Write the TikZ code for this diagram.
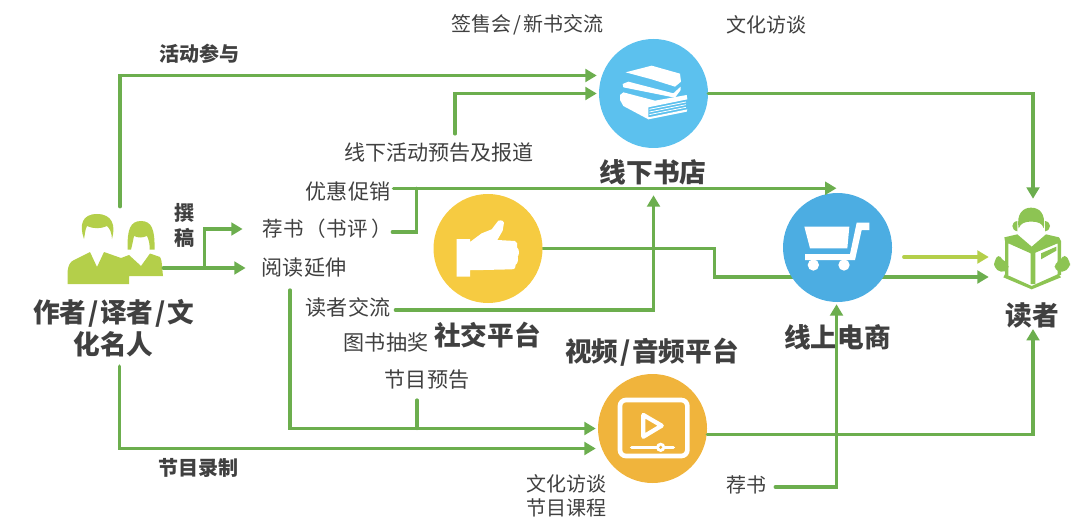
\documentclass[tikz,border=0pt]{standalone}
\usepackage{fontspec}
\setmainfont{Noto Sans CJK SC}
\usetikzlibrary{arrows.meta,calc,backgrounds}
\definecolor{conn}{HTML}{6CAE4E}
\definecolor{lime}{HTML}{B4CF4A}
\definecolor{readerc}{HTML}{8DC453}
\definecolor{ink}{HTML}{404040}
\definecolor{cblue}{HTML}{5CC1EE}
\definecolor{cshop}{HTML}{4CADE2}
\definecolor{cyellow}{HTML}{F6CB41}
\definecolor{corange}{HTML}{F0B43C}
\newcommand{\wslash}{\kern1.3pt/\kern1.3pt}
\tikzset{
  lbl/.style={inner sep=0pt,text=ink,font=\fontsize{15}{18}\selectfont},
  lblb/.style={inner sep=0pt,text=ink,font=\fontsize{15}{18}\selectfont\bfseries},
  big/.style={inner sep=0pt,text=ink,align=center,font=\fontsize{20}{24}\selectfont\bfseries},
  disc/.style={circle,inner sep=0pt,minimum size=81.75pt},
  iconbox/.style={inner sep=0pt,minimum width=#1},
  link/.style={draw=conn,line width=2.5pt,line cap=round,line join=miter,-{Triangle[length=8.5pt,width=9.5pt]}},
  plain link/.style={draw=conn,line width=2.5pt,line cap=round},
  zoomed/.style={x=0.25pt,y=-0.25pt}
}
\begin{document}
\begin{tikzpicture}[x=0.75pt,y=-0.75pt]
\useasboundingbox (0,0) rectangle (1080,527);
% circles
\node[disc,fill=cblue] (shop) at (653.5,93.5) {};
\node[disc,fill=cshop] (cart) at (837.5,247.5) {};
\node[disc,fill=cyellow] (social) at (488,248.5) {};
\node[disc,fill=corange] (video) at (652.5,428.5) {};
% icon anchors
\node[iconbox=72pt,minimum height=58.5pt] (author) at (115,246) {};
\node[iconbox=66pt,minimum height=67.5pt] (reader) at (1033,245) {};
% author icon
\fill[lime] (67.5,284) -- (67.5,273) .. controls (68,265) and (70,262) .. (74,260) -- (90,252) -- (97,267) -- (104,252) -- (121,258) -- (129,255) -- (141,266) -- (150,253.5) -- (160,257) .. controls (162,259) and (162,268) .. (163,276) -- (129,276) -- (129,284) -- cycle;
\fill[lime] (84,239) .. controls (79,225) and (82,214) .. (97,214) .. controls (112,214) and (116,225) .. (112,239) .. controls (111.5,232) and (110,229) .. (107,226) .. controls (100,229) and (94,229) .. (87,226) .. controls (85,230) and (85,234) .. (84,239) -- cycle;
\fill[lime] (127.7,249.5) .. controls (127,230) and (130,221) .. (141,221) .. controls (152,221) and (155,230) .. (154.5,249.5) -- (149.5,249.5) .. controls (150,245) and (149,240) .. (147,236) .. controls (142,238) and (138,238) .. (134,236) .. controls (133,241) and (132,246) .. (131,249.5) -- cycle;
% books icon
\begin{scope}[shift={(580,30)},zoomed]
\fill[white] (137,127) -- (215,107) -- (300,131) -- (303,155) -- (285,170) -- (215,148) -- cycle;
\fill[white] (128,162) -- (145,155) -- (280,190) -- (302,170) -- (302,180) -- (285,203) -- (130,172) -- cycle;
\fill[white] (120,195) -- (130,187) -- (225,212) -- (320,195) -- (322,208) -- (205,232) -- (205,262) -- (322,238) -- (320,245) -- (205,268) -- (130,228) -- (120,210) -- cycle;
\draw[white,line width=.6pt] (208,238) -- (318,216) (208,246) -- (318,224) (208,254) -- (318,232);
\end{scope}
% thumb icon
\begin{scope}[shift={(420,190)},zoomed]
\fill[white] (110,147) -- (150,147) -- (150,156) -- (185,130) -- (215,118) -- (235,92) .. controls (245,90) and (252,92) .. (252,98) -- (248,122) -- (232,150) -- (285,153) .. controls (292,155) and (294,165) .. (291,172) .. controls (299,178) and (298,195) .. (293,200) .. controls (296,210) and (292,222) .. (287,224) .. controls (288,232) and (285,238) .. (275,238) -- (190,240) -- (150,240) -- (150,260) -- (110,260) -- cycle;
\end{scope}
% cart icon
\begin{scope}[shift={(760,180)},zoomed]
\fill[white] (133,140) -- (268,140) -- (262,205) -- (150,205) -- cycle;
\fill[white] (328,128) -- (328,150) -- (305,150) -- (285,240) -- (135,240) -- (135,222) -- (270,222) -- (290,128) -- cycle;
\fill[white] (160,255) circle[radius=17] (252,255) circle[radius=17];
\end{scope}
% video icon
\begin{scope}[shift={(580,360)},zoomed]
\draw[white,line width=3.5pt,rounded corners=4.5pt] (120,120) rectangle (322,288);
\draw[white,line width=3.2pt,line join=round] (190,165) -- (245,197) -- (190,230) -- cycle;
\draw[white,line width=2.6pt,line cap=round] (155,262) -- (280,262);
\fill[white] (242,262) circle[radius=14];
\fill[corange] (242,262) circle[radius=5];
\end{scope}
% reader icon
\begin{scope}[shift={(760,180)},zoomed]
\fill[readerc] (776,145) .. controls (768,100) and (790,83) .. (813,83) .. controls (838,83) and (858,100) .. (851,145) .. controls (846,132) and (840,125) .. (813,125) .. controls (790,125) and (782,132) .. (776,145) -- cycle;
\fill[readerc] (772,123) .. controls (752,126) and (752,150) .. (772,154) -- cycle (855,123) .. controls (875,126) and (875,150) .. (855,154) -- cycle;
\fill[readerc] (733,172) -- (772,163) -- (815,200) -- (858,163) -- (897,172) -- (903,183) -- (903,285) -- (893,285) -- (893,190) -- (826,218) -- (826,312) -- (812,312) -- (812,220) -- (745,190) -- (745,285) -- (735,285) -- (735,183) -- cycle;
\fill[readerc] (735,282) -- (815,318) -- (895,282) -- (903,292) -- (815,328) -- (730,292) -- cycle;
\fill[readerc] (843,220) -- (889,200) -- (889,212) -- (843,238) -- cycle;
\fill[readerc,rounded corners=3pt] (716,222) -- (726,240) -- (745,250) -- (746,270) -- (722,278) -- (702,262) -- (702,245) -- cycle;
\fill[readerc,rounded corners=3pt] (914,222) -- (902,240) -- (884,250) -- (884,270) -- (908,278) -- (930,262) -- (930,245) -- cycle;
\end{scope}
% labels
\node[lbl] (signing) at (527.5,25) {签售会\wslash 新书交流};
\node[lbl] (interview) at (766,25) {文化访谈};
\node[lblb] (activity) at (199.5,54) {活动参与};
\node[lbl,font=\fontsize{15.8}{18}\selectfont] (offline) at (439,153) {线下活动预告及报道};
\node[lbl,font=\fontsize{15.8}{18}\selectfont] (promo) at (348,192) {优惠促销};
\node[lbl,font=\fontsize{15.4}{18}\selectfont] (recommend) at (327.5,229) {荐书\kern1.5pt（书评\kern3pt）};
\node[lbl,font=\fontsize{15.8}{18}\selectfont] (extend) at (304,268) {阅读延伸};
\node[lbl,font=\fontsize{15.8}{18}\selectfont] (exchange) at (348,307) {读者交流};
\node[lbl,font=\fontsize{15.8}{18}\selectfont] (lottery) at (386,342) {图书抽奖};
\node[lbl,font=\fontsize{15.8}{18}\selectfont] (preview) at (427,380) {节目预告};
\node[lbl,align=center,font=\fontsize{15}{18}\selectfont] (course) at (566,496) {文化访谈\\节目课程};
\node[lbl] (rec2) at (746,485) {荐书};
\node[lblb] (record) at (198.5,468) {节目录制};
\node[lblb,align=center,font=\fontsize{15}{18.7}\selectfont\bfseries] (write) at (184,225.5) {撰\\稿};
\node[big] (shoplbl) at (653,172) {线下书店};
\node[big] (sociallbl) at (487.5,335) {社交平台};
\node[big] (videolbl) at (652,352) {视频\wslash 音频平台};
\node[big] (cartlbl) at (837.5,337) {线上电商};
\node[big] (readerlbl) at (1032,315) {读者};
\node[big] (authorlbl) at (113.5,328) {作者\wslash 译者\wslash 文\\化名人};
% connectors
\begin{scope}[on background layer]
\draw[link] (social.east) -- ++(172,0) |- ($(reader.west)+(0,32)$);
\end{scope}
\draw[link] ($(author.north)+(5,0)$) |- ($(shop.west)+(-2,-18)$);
\draw[link] ($(offline.north)+(16,-9)$) |- ($(shop.west)+(-2,0)$);
\draw[link] (shop.east) -| ($(reader.north)+(0,-1)$);
\coordinate (cartin) at ($(cart.north)+(-1,-4.5)$);
\draw[link] (promo.east |- cartin) ++(3,0) -- (cartin);
\draw[plain link] ($(recommend.east)+(0,3)$) -| ($(promo.east |- cartin)+(26,0)$);
\draw[link] ($(exchange.east)+(5,3)$) -| ($(shop.south)+(0,47)$);
\draw[link,draw=lime] ($(reader.west)+(-85,12)$) -- ($(reader.west)+(0,12)$);
\coordinate (authout) at (author.east |- extend.west);
\draw[link] (authout) -- ($(extend.west)+(-16,0)$);
\draw[link] ($(authout)+(41,0)$) |- ($(recommend.west)+(-20,0)$);
\draw[link] ($(extend.south)+(-14,12)$) |- ($(video.west)+(-2,0)$);
\draw[plain link] ($(preview.south)+(-10,10)$) -- ($(preview.south |- video.west)+(-10,0)$);
\draw[link] ($(authorlbl.south)+(6,9)$) |- ($(video.west)+(-2,20)$);
\draw[link] ($(video.east)+(0,6)$) -| ($(readerlbl.south)+(1,1)$);
\draw[link] ($(rec2.east)+(9,2)$) -| ($(cart.south)+(-1,2)$);
\end{tikzpicture}
\end{document}
